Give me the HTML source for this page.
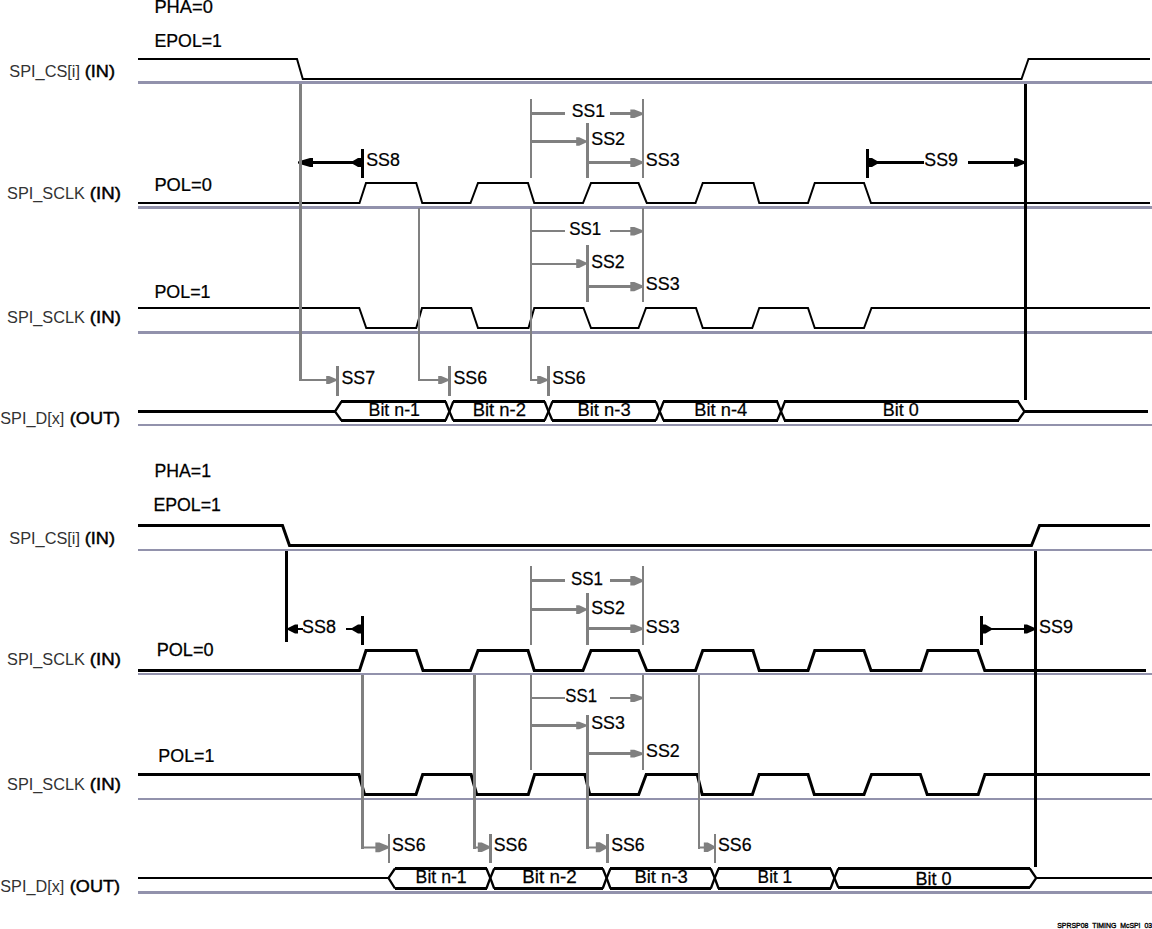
<!DOCTYPE html>
<html><head><meta charset="utf-8"><style>
html,body{margin:0;padding:0;background:#fff;overflow:hidden;}
svg{display:block;}
text{font-family:"Liberation Sans", sans-serif;}
</style></head><body>
<svg width="1152" height="929" viewBox="0 0 1152 929">
<rect width="1152" height="929" fill="#fff"/>
<rect x="138" y="81" width="1014" height="3" fill="#9292ac" shape-rendering="crispEdges"/>
<rect x="138" y="206" width="1014" height="3" fill="#9292ac" shape-rendering="crispEdges"/>
<rect x="138" y="331" width="1014" height="3" fill="#9292ac" shape-rendering="crispEdges"/>
<rect x="138" y="424" width="1014" height="2" fill="#9292ac" shape-rendering="crispEdges"/>
<rect x="138" y="549" width="1014" height="2" fill="#9292ac" shape-rendering="crispEdges"/>
<rect x="138" y="673" width="1014" height="2" fill="#9292ac" shape-rendering="crispEdges"/>
<rect x="138" y="798" width="1014" height="2" fill="#9292ac" shape-rendering="crispEdges"/>
<rect x="138" y="891" width="1014" height="3" fill="#9292ac" shape-rendering="crispEdges"/>
<path d="M138,59 H297 L302.8,79 H1021.5 L1028.5,59 H1150" stroke="#000" stroke-width="2" fill="none" stroke-linejoin="miter" stroke-miterlimit="10"/>
<path d="M138,203 H359.5 L366,183 H416.25 L422.25,203 H470.5 L478,183 H528 L534.25,203 H583 L591,183 H638.5 L646.75,203 H695.5 L702.75,183 H753.5 L759.25,203 H808 L814.75,183 H864 L871,203 H1150" stroke="#000" stroke-width="2" fill="none" stroke-linejoin="miter" stroke-miterlimit="10"/>
<path d="M138,308 H359.25 L366.25,328 H416.25 L422,308 H471.25 L478,328 H528.5 L534.25,308 H583.5 L591,328 H638.5 L646,308 H696 L702.75,328 H752.25 L759.25,308 H808 L814.75,328 H864 L871.5,308 H1150" stroke="#000" stroke-width="2" fill="none" stroke-linejoin="miter" stroke-miterlimit="10"/>
<rect x="341" y="400.0" width="105.0" height="3" fill="#000" shape-rendering="crispEdges"/>
<rect x="341" y="419.0" width="105.0" height="3" fill="#000" shape-rendering="crispEdges"/>
<path d="M341.5,401.5 L335,411.5 L341.5,420.5" stroke="#000" stroke-width="2.3" fill="none" stroke-linejoin="miter" stroke-miterlimit="4"/>
<path d="M445.5,401.5 L449.4,411.5 L445.5,420.5" stroke="#000" stroke-width="2.3" fill="none" stroke-linejoin="miter" stroke-miterlimit="4"/>
<rect x="452.79999999999995" y="400.0" width="92.30000000000007" height="3" fill="#000" shape-rendering="crispEdges"/>
<rect x="452.79999999999995" y="419.0" width="92.30000000000007" height="3" fill="#000" shape-rendering="crispEdges"/>
<path d="M453.29999999999995,401.5 L449.4,411.5 L453.29999999999995,420.5" stroke="#000" stroke-width="2.3" fill="none" stroke-linejoin="miter" stroke-miterlimit="4"/>
<path d="M544.6,401.5 L548.5,411.5 L544.6,420.5" stroke="#000" stroke-width="2.3" fill="none" stroke-linejoin="miter" stroke-miterlimit="4"/>
<rect x="551.9" y="400.0" width="104.45000000000005" height="3" fill="#000" shape-rendering="crispEdges"/>
<rect x="551.9" y="419.0" width="104.45000000000005" height="3" fill="#000" shape-rendering="crispEdges"/>
<path d="M552.4,401.5 L548.5,411.5 L552.4,420.5" stroke="#000" stroke-width="2.3" fill="none" stroke-linejoin="miter" stroke-miterlimit="4"/>
<path d="M655.85,401.5 L659.75,411.5 L655.85,420.5" stroke="#000" stroke-width="2.3" fill="none" stroke-linejoin="miter" stroke-miterlimit="4"/>
<rect x="663.15" y="400.0" width="114.45000000000005" height="3" fill="#000" shape-rendering="crispEdges"/>
<rect x="663.15" y="419.0" width="114.45000000000005" height="3" fill="#000" shape-rendering="crispEdges"/>
<path d="M663.65,401.5 L659.75,411.5 L663.65,420.5" stroke="#000" stroke-width="2.3" fill="none" stroke-linejoin="miter" stroke-miterlimit="4"/>
<path d="M777.1,401.5 L781,411.5 L777.1,420.5" stroke="#000" stroke-width="2.3" fill="none" stroke-linejoin="miter" stroke-miterlimit="4"/>
<rect x="784.4" y="400.0" width="234.10000000000002" height="3" fill="#000" shape-rendering="crispEdges"/>
<rect x="784.4" y="419.0" width="234.10000000000002" height="3" fill="#000" shape-rendering="crispEdges"/>
<path d="M784.9,401.5 L781,411.5 L784.9,420.5" stroke="#000" stroke-width="2.3" fill="none" stroke-linejoin="miter" stroke-miterlimit="4"/>
<path d="M1018.0,401.5 L1024.5,411.5 L1018.0,420.5" stroke="#000" stroke-width="2.3" fill="none" stroke-linejoin="miter" stroke-miterlimit="4"/>
<rect x="138" y="410.0" width="197" height="3" fill="#000" shape-rendering="crispEdges"/>
<rect x="1024.5" y="410.0" width="123.5" height="3" fill="#000" shape-rendering="crispEdges"/>
<path d="M138,525.5 H282.5 L289.5,545.5 H1031.5 L1039.5,525.5 H1150" stroke="#000" stroke-width="3" fill="none" stroke-linejoin="miter" stroke-miterlimit="10"/>
<path d="M138,670.5 H359.5 L366,650.5 H416.25 L423,670.5 H470.5 L478,650.5 H528 L534.25,670.5 H583 L591,650.5 H638.5 L646.75,670.5 H695.5 L702.75,650.5 H753 L759.25,670.5 H808 L814.75,650.5 H864 L871,670.5 H921 L927.75,650.5 H977.75 L984.75,670.5 H1146" stroke="#000" stroke-width="3" fill="none" stroke-linejoin="miter" stroke-miterlimit="10"/>
<path d="M138,774.5 H359 L364.5,794.5 H416 L422.7,774.5 H471.1 L476.7,794.5 H528.3 L534.6,774.5 H584.8 L589.8,794.5 H638.7 L646.2,774.5 H697.2 L702.2,794.5 H752.4 L759.1,774.5 H808 L814.3,794.5 H864 L871.5,774.5 H920.4 L927.2,794.5 H978.2 L984.9,774.5 H1150" stroke="#000" stroke-width="3" fill="none" stroke-linejoin="miter" stroke-miterlimit="10"/>
<rect x="394.5" y="867.0" width="92.40000000000003" height="3" fill="#000" shape-rendering="crispEdges"/>
<rect x="394.5" y="887.0" width="92.40000000000003" height="3" fill="#000" shape-rendering="crispEdges"/>
<path d="M395.0,868.5 L388.5,878 L395.0,888.5" stroke="#000" stroke-width="2.3" fill="none" stroke-linejoin="miter" stroke-miterlimit="4"/>
<path d="M486.40000000000003,868.5 L490.3,878 L486.40000000000003,888.5" stroke="#000" stroke-width="2.3" fill="none" stroke-linejoin="miter" stroke-miterlimit="4"/>
<rect x="493.7" y="867.0" width="109.50000000000006" height="3" fill="#000" shape-rendering="crispEdges"/>
<rect x="493.7" y="887.0" width="109.50000000000006" height="3" fill="#000" shape-rendering="crispEdges"/>
<path d="M494.2,868.5 L490.3,878 L494.2,888.5" stroke="#000" stroke-width="2.3" fill="none" stroke-linejoin="miter" stroke-miterlimit="4"/>
<path d="M602.7,868.5 L606.6,878 L602.7,888.5" stroke="#000" stroke-width="2.3" fill="none" stroke-linejoin="miter" stroke-miterlimit="4"/>
<rect x="610.0" y="867.0" width="101.30000000000007" height="3" fill="#000" shape-rendering="crispEdges"/>
<rect x="610.0" y="887.0" width="101.30000000000007" height="3" fill="#000" shape-rendering="crispEdges"/>
<path d="M610.5,868.5 L606.6,878 L610.5,888.5" stroke="#000" stroke-width="2.3" fill="none" stroke-linejoin="miter" stroke-miterlimit="4"/>
<path d="M710.8000000000001,868.5 L714.7,878 L710.8000000000001,888.5" stroke="#000" stroke-width="2.3" fill="none" stroke-linejoin="miter" stroke-miterlimit="4"/>
<rect x="718.1" y="867.0" width="112.89999999999998" height="3" fill="#000" shape-rendering="crispEdges"/>
<rect x="718.1" y="887.0" width="112.89999999999998" height="3" fill="#000" shape-rendering="crispEdges"/>
<path d="M718.6,868.5 L714.7,878 L718.6,888.5" stroke="#000" stroke-width="2.3" fill="none" stroke-linejoin="miter" stroke-miterlimit="4"/>
<path d="M830.5,868.5 L834.4,878 L830.5,888.5" stroke="#000" stroke-width="2.3" fill="none" stroke-linejoin="miter" stroke-miterlimit="4"/>
<rect x="837.8" y="867.0" width="192.4000000000001" height="3" fill="#000" shape-rendering="crispEdges"/>
<rect x="837.8" y="886.0" width="192.4000000000001" height="3" fill="#000" shape-rendering="crispEdges"/>
<path d="M838.3,868.5 L834.4,878 L838.3,887.5" stroke="#000" stroke-width="2.3" fill="none" stroke-linejoin="miter" stroke-miterlimit="4"/>
<path d="M1029.7,868.5 L1036.2,878 L1029.7,887.5" stroke="#000" stroke-width="2.3" fill="none" stroke-linejoin="miter" stroke-miterlimit="4"/>
<rect x="138" y="877.0" width="250.5" height="2" fill="#000" shape-rendering="crispEdges"/>
<rect x="1036.2" y="877.0" width="115.79999999999995" height="2" fill="#000" shape-rendering="crispEdges"/>
<rect x="1024" y="84" width="3" height="316" fill="#000" shape-rendering="crispEdges"/>
<rect x="300" y="161" width="61" height="3" fill="#000" shape-rendering="crispEdges"/>
<path d="M313,158.0 L310,158.0 L298,161.5 L298,163.5 L310,167.0 L313,167.0 Z" fill="#000"/>
<path d="M361,158.0 L358,158.0 L352,161.5 L352,163.5 L358,167.0 L361,167.0 Z" fill="#000"/>
<rect x="361" y="149" width="3" height="29" fill="#000" shape-rendering="crispEdges"/>
<rect x="866" y="149" width="3" height="29" fill="#000" shape-rendering="crispEdges"/>
<rect x="867" y="161" width="57" height="3" fill="#000" shape-rendering="crispEdges"/>
<path d="M869,158.0 L872,158.0 L878,161.5 L878,163.5 L872,167.0 L869,167.0 Z" fill="#000"/>
<rect x="968" y="161" width="57" height="3" fill="#000" shape-rendering="crispEdges"/>
<path d="M1014,158.25 L1017,158.25 L1025,161.5 L1025,163.5 L1017,166.75 L1014,166.75 Z" fill="#000"/>
<rect x="285" y="551" width="3" height="91" fill="#000" shape-rendering="crispEdges"/>
<rect x="1034" y="551" width="3" height="316" fill="#000" shape-rendering="crispEdges"/>
<path d="M298,624.5 L295,624.5 L288,628 L288,630 L295,633.5 L298,633.5 Z" fill="#000"/>
<rect x="288" y="628" width="15" height="2" fill="#000" shape-rendering="crispEdges"/>
<rect x="346" y="628" width="15" height="2" fill="#000" shape-rendering="crispEdges"/>
<path d="M361,624.5 L358,624.5 L352,628 L352,630 L358,633.5 L361,633.5 Z" fill="#000"/>
<rect x="361" y="616" width="3" height="29" fill="#000" shape-rendering="crispEdges"/>
<rect x="980" y="616" width="3" height="29" fill="#000" shape-rendering="crispEdges"/>
<rect x="982" y="628" width="53" height="2" fill="#000" shape-rendering="crispEdges"/>
<path d="M982.5,624.5 L985.5,624.5 L991.5,628 L991.5,630 L985.5,633.5 L982.5,633.5 Z" fill="#000"/>
<path d="M1024,624.5 L1027,624.5 L1035,628 L1035,630 L1027,633.5 L1024,633.5 Z" fill="#000"/>
<rect x="299" y="84" width="3" height="297" fill="#808080" shape-rendering="crispEdges"/>
<rect x="299" y="379" width="30" height="2" fill="#808080" shape-rendering="crispEdges"/>
<path d="M326.2,376.0 L329.2,376.0 L336.2,379 L336.2,381 L329.2,384.0 L326.2,384.0 Z" fill="#808080"/>
<rect x="336" y="366" width="3" height="30" fill="#808080" shape-rendering="crispEdges"/>
<rect x="418" y="208" width="2" height="173" fill="#808080" shape-rendering="crispEdges"/>
<rect x="418" y="379" width="23" height="2" fill="#808080" shape-rendering="crispEdges"/>
<path d="M438.2,376.0 L441.2,376.0 L448.2,379 L448.2,381 L441.2,384.0 L438.2,384.0 Z" fill="#808080"/>
<rect x="448" y="366" width="3" height="30" fill="#808080" shape-rendering="crispEdges"/>
<rect x="530" y="99" width="2" height="79" fill="#808080" shape-rendering="crispEdges"/>
<rect x="530" y="208" width="2" height="173" fill="#808080" shape-rendering="crispEdges"/>
<rect x="530" y="379" width="10" height="2" fill="#808080" shape-rendering="crispEdges"/>
<path d="M537.2,376.0 L540.2,376.0 L547.2,379 L547.2,381 L540.2,384.0 L537.2,384.0 Z" fill="#808080"/>
<rect x="547" y="366" width="3" height="30" fill="#808080" shape-rendering="crispEdges"/>
<rect x="642" y="99" width="2" height="79" fill="#808080" shape-rendering="crispEdges"/>
<rect x="531" y="112" width="34" height="3" fill="#808080" shape-rendering="crispEdges"/>
<rect x="610" y="112" width="24" height="3" fill="#808080" shape-rendering="crispEdges"/>
<path d="M630.3,109.55 L634.3,109.55 L642.8,112.8 L642.8,114.8 L634.3,118.05 L630.3,118.05 Z" fill="#808080"/>
<rect x="586" y="123" width="3" height="55" fill="#808080" shape-rendering="crispEdges"/>
<rect x="531" y="140" width="47" height="3" fill="#808080" shape-rendering="crispEdges"/>
<path d="M576.2,137.15 L579.2,137.15 L586.2,140.5 L586.2,142.5 L579.2,145.85 L576.2,145.85 Z" fill="#808080"/>
<rect x="588" y="161" width="46" height="3" fill="#808080" shape-rendering="crispEdges"/>
<path d="M630.3,158.0 L634.3,158.0 L642.8,161.5 L642.8,163.5 L634.3,167.0 L630.3,167.0 Z" fill="#808080"/>
<rect x="642" y="208" width="2" height="94" fill="#808080" shape-rendering="crispEdges"/>
<rect x="531" y="230" width="34" height="2" fill="#808080" shape-rendering="crispEdges"/>
<rect x="610" y="230" width="24" height="2" fill="#808080" shape-rendering="crispEdges"/>
<path d="M630.3,226.89999999999998 L634.3,226.89999999999998 L642.8,230.2 L642.8,232.2 L634.3,235.5 L630.3,235.5 Z" fill="#808080"/>
<rect x="586" y="245" width="3" height="57" fill="#808080" shape-rendering="crispEdges"/>
<rect x="531" y="263" width="47" height="2" fill="#808080" shape-rendering="crispEdges"/>
<path d="M576.2,259.25 L579.2,259.25 L586.2,262.6 L586.2,264.6 L579.2,267.95000000000005 L576.2,267.95000000000005 Z" fill="#808080"/>
<rect x="588" y="285" width="46" height="3" fill="#808080" shape-rendering="crispEdges"/>
<path d="M630.3,281.95000000000005 L634.3,281.95000000000005 L642.8,285.6 L642.8,287.6 L634.3,291.25 L630.3,291.25 Z" fill="#808080"/>
<rect x="530" y="566" width="2" height="79" fill="#808080" shape-rendering="crispEdges"/>
<rect x="642" y="566" width="2" height="79" fill="#808080" shape-rendering="crispEdges"/>
<rect x="531" y="579" width="34" height="3" fill="#808080" shape-rendering="crispEdges"/>
<rect x="610" y="579" width="24" height="3" fill="#808080" shape-rendering="crispEdges"/>
<path d="M630.3,576.05 L634.3,576.05 L642.8,579.8 L642.8,581.8 L634.3,585.55 L630.3,585.55 Z" fill="#808080"/>
<rect x="586" y="593" width="3" height="52" fill="#808080" shape-rendering="crispEdges"/>
<rect x="531" y="608" width="47" height="3" fill="#808080" shape-rendering="crispEdges"/>
<path d="M576.2,605.2 L579.2,605.2 L586.2,608.6 L586.2,610.6 L579.2,614.0 L576.2,614.0 Z" fill="#808080"/>
<rect x="588" y="627" width="46" height="3" fill="#808080" shape-rendering="crispEdges"/>
<path d="M630.3,624.5 L634.3,624.5 L642.8,627.8 L642.8,629.8 L634.3,633.0999999999999 L630.3,633.0999999999999 Z" fill="#808080"/>
<rect x="530" y="675" width="2" height="95" fill="#808080" shape-rendering="crispEdges"/>
<rect x="642" y="675" width="2" height="95" fill="#808080" shape-rendering="crispEdges"/>
<rect x="531" y="697" width="34" height="2" fill="#808080" shape-rendering="crispEdges"/>
<rect x="610" y="697" width="24" height="2" fill="#808080" shape-rendering="crispEdges"/>
<path d="M630.3,694.1 L634.3,694.1 L642.8,697 L642.8,699 L634.3,701.9 L630.3,701.9 Z" fill="#808080"/>
<rect x="531" y="724" width="47" height="3" fill="#808080" shape-rendering="crispEdges"/>
<path d="M576.2,721.7 L579.2,721.7 L586.2,724.5 L586.2,726.5 L579.2,729.3 L576.2,729.3 Z" fill="#808080"/>
<rect x="588" y="752" width="46" height="3" fill="#808080" shape-rendering="crispEdges"/>
<path d="M630.3,749.8000000000001 L634.3,749.8000000000001 L642.8,752.7 L642.8,754.7 L634.3,757.6 L630.3,757.6 Z" fill="#808080"/>
<rect x="361" y="675" width="3" height="174" fill="#808080" shape-rendering="crispEdges"/>
<rect x="361" y="846.5" width="15.6" height="2" fill="#808080"/>
<path d="M375.40000000000003,842.4499999999999 L379.40000000000003,842.4499999999999 L388.8,846.3 L388.8,848.3 L379.40000000000003,852.15 L375.40000000000003,852.15 Z" fill="#808080"/>
<rect x="388" y="834" width="2" height="29" fill="#808080" shape-rendering="crispEdges"/>
<rect x="473" y="675" width="3" height="174" fill="#808080" shape-rendering="crispEdges"/>
<rect x="473" y="846.5" width="6" height="2" fill="#808080"/>
<path d="M477.8,842.55 L481.8,842.55 L489.8,846.3 L489.8,848.3 L481.8,852.05 L477.8,852.05 Z" fill="#808080"/>
<rect x="489" y="834" width="3" height="29" fill="#808080" shape-rendering="crispEdges"/>
<rect x="586" y="715" width="3" height="134" fill="#808080" shape-rendering="crispEdges"/>
<rect x="586" y="846.5" width="11" height="2" fill="#808080"/>
<path d="M595.8,842.3 L599.8,842.3 L606.8,846.3 L606.8,848.3 L599.8,852.3 L595.8,852.3 Z" fill="#808080"/>
<rect x="606" y="834" width="3" height="29" fill="#808080" shape-rendering="crispEdges"/>
<rect x="698" y="675" width="2" height="174" fill="#808080" shape-rendering="crispEdges"/>
<rect x="698" y="846.5" width="7" height="2" fill="#808080"/>
<path d="M703.8,842.55 L707.8,842.55 L714.8,846.3 L714.8,848.3 L707.8,852.05 L703.8,852.05 Z" fill="#808080"/>
<rect x="714" y="834" width="2" height="29" fill="#808080" shape-rendering="crispEdges"/>
<text transform="translate(154.44,12.85) scale(0.9880,1)" font-size="18.5" font-weight="normal" fill="#000" stroke="#000" stroke-width="0.25">PHA=0</text>
<text transform="translate(154.48,46.9) scale(0.9587,1)" font-size="18.5" font-weight="normal" fill="#000" stroke="#000" stroke-width="0.25">EPOL=1</text>
<text transform="translate(9.25,77) scale(0.9616,1)" font-size="17" font-weight="normal" fill="#333">SPI_CS[i]</text>
<text transform="translate(84.71,77) scale(1.0681,1)" font-size="17" font-weight="normal" fill="#000" stroke="#000" stroke-width="0.45">(IN)</text>
<text transform="translate(7.05,198.6) scale(0.9594,1)" font-size="17" font-weight="normal" fill="#333">SPI_SCLK</text>
<text transform="translate(89.78,198.6) scale(1.0984,1)" font-size="17" font-weight="normal" fill="#000" stroke="#000" stroke-width="0.45">(IN)</text>
<text transform="translate(154.44,191.1) scale(0.9882,1)" font-size="18.5" font-weight="normal" fill="#000" stroke="#000" stroke-width="0.25">POL=0</text>
<text transform="translate(154.47,297.9) scale(0.9646,1)" font-size="18.5" font-weight="normal" fill="#000" stroke="#000" stroke-width="0.25">POL=1</text>
<text transform="translate(7.05,323.3) scale(0.9594,1)" font-size="17" font-weight="normal" fill="#333">SPI_SCLK</text>
<text transform="translate(89.78,323.3) scale(1.0984,1)" font-size="17" font-weight="normal" fill="#000" stroke="#000" stroke-width="0.45">(IN)</text>
<text transform="translate(0.25,423.6) scale(0.9549,1)" font-size="17" font-weight="normal" fill="#333">SPI_D[x]</text>
<text transform="translate(69.81,423.6) scale(1.0644,1)" font-size="17" font-weight="normal" fill="#000" stroke="#000" stroke-width="0.45">(OUT)</text>
<text transform="translate(368.52,416) scale(0.9632,1)" font-size="18.5" font-weight="normal" fill="#000" stroke="#000" stroke-width="0.25">Bit n-1</text>
<text transform="translate(472.67,415.8) scale(0.9984,1)" font-size="18.5" font-weight="normal" fill="#000" stroke="#000" stroke-width="0.25">Bit n-2</text>
<text transform="translate(577.43,415.8) scale(0.9957,1)" font-size="18.5" font-weight="normal" fill="#000" stroke="#000" stroke-width="0.25">Bit n-3</text>
<text transform="translate(694.34,415.8) scale(0.9883,1)" font-size="18.5" font-weight="normal" fill="#000" stroke="#000" stroke-width="0.25">Bit n-4</text>
<text transform="translate(882.76,415.8) scale(0.9722,1)" font-size="18.5" font-weight="normal" fill="#000" stroke="#000" stroke-width="0.25">Bit 0</text>
<text transform="translate(341.39,383.75) scale(0.9633,1)" font-size="18.5" font-weight="normal" fill="#000" stroke="#000" stroke-width="0.25">SS7</text>
<text transform="translate(453.39,384) scale(0.9655,1)" font-size="18.5" font-weight="normal" fill="#000" stroke="#000" stroke-width="0.25">SS6</text>
<text transform="translate(552.29,383.8) scale(0.9536,1)" font-size="18.5" font-weight="normal" fill="#000" stroke="#000" stroke-width="0.25">SS6</text>
<text transform="translate(571.70,116.7) scale(0.9498,1)" font-size="18.5" font-weight="normal" fill="#000" stroke="#000" stroke-width="0.25">SS1</text>
<text transform="translate(591.18,144.6) scale(0.9708,1)" font-size="18.5" font-weight="normal" fill="#000" stroke="#000" stroke-width="0.25">SS2</text>
<text transform="translate(645.78,165.5) scale(0.9685,1)" font-size="18.5" font-weight="normal" fill="#000" stroke="#000" stroke-width="0.25">SS3</text>
<text transform="translate(569.22,234.8) scale(0.9169,1)" font-size="18.5" font-weight="normal" fill="#000" stroke="#000" stroke-width="0.25">SS1</text>
<text transform="translate(591.29,268) scale(0.9558,1)" font-size="18.5" font-weight="normal" fill="#000" stroke="#000" stroke-width="0.25">SS2</text>
<text transform="translate(645.78,290.3) scale(0.9685,1)" font-size="18.5" font-weight="normal" fill="#000" stroke="#000" stroke-width="0.25">SS3</text>
<text transform="translate(366.19,165.8) scale(0.9625,1)" font-size="18.5" font-weight="normal" fill="#000" stroke="#000" stroke-width="0.25">SS8</text>
<text transform="translate(924.29,166) scale(0.9618,1)" font-size="18.5" font-weight="normal" fill="#000" stroke="#000" stroke-width="0.25">SS9</text>
<text transform="translate(154.49,476.8) scale(0.9560,1)" font-size="18.5" font-weight="normal" fill="#000" stroke="#000" stroke-width="0.25">PHA=1</text>
<text transform="translate(153.38,510.8) scale(0.9601,1)" font-size="18.5" font-weight="normal" fill="#000" stroke="#000" stroke-width="0.25">EPOL=1</text>
<text transform="translate(9.25,544) scale(0.9616,1)" font-size="17" font-weight="normal" fill="#333">SPI_CS[i]</text>
<text transform="translate(84.71,544) scale(1.0681,1)" font-size="17" font-weight="normal" fill="#000" stroke="#000" stroke-width="0.45">(IN)</text>
<text transform="translate(156.65,656.1) scale(0.9810,1)" font-size="18.5" font-weight="normal" fill="#000" stroke="#000" stroke-width="0.25">POL=0</text>
<text transform="translate(7.05,665.3) scale(0.9594,1)" font-size="17" font-weight="normal" fill="#333">SPI_SCLK</text>
<text transform="translate(89.78,665.3) scale(1.0984,1)" font-size="17" font-weight="normal" fill="#000" stroke="#000" stroke-width="0.45">(IN)</text>
<text transform="translate(158.37,762.2) scale(0.9646,1)" font-size="18.5" font-weight="normal" fill="#000" stroke="#000" stroke-width="0.25">POL=1</text>
<text transform="translate(7.05,790) scale(0.9594,1)" font-size="17" font-weight="normal" fill="#333">SPI_SCLK</text>
<text transform="translate(89.78,790) scale(1.0984,1)" font-size="17" font-weight="normal" fill="#000" stroke="#000" stroke-width="0.45">(IN)</text>
<text transform="translate(0.25,892) scale(0.9549,1)" font-size="17" font-weight="normal" fill="#333">SPI_D[x]</text>
<text transform="translate(69.81,892) scale(1.0644,1)" font-size="17" font-weight="normal" fill="#000" stroke="#000" stroke-width="0.45">(OUT)</text>
<text transform="translate(415.58,883) scale(0.9563,1)" font-size="18.5" font-weight="normal" fill="#000" stroke="#000" stroke-width="0.25">Bit n-1</text>
<text transform="translate(522.24,883) scale(1.0179,1)" font-size="18.5" font-weight="normal" fill="#000" stroke="#000" stroke-width="0.25">Bit n-2</text>
<text transform="translate(634.42,883) scale(0.9996,1)" font-size="18.5" font-weight="normal" fill="#000" stroke="#000" stroke-width="0.25">Bit n-3</text>
<text transform="translate(757.62,883) scale(0.9341,1)" font-size="18.5" font-weight="normal" fill="#000" stroke="#000" stroke-width="0.25">Bit 1</text>
<text transform="translate(915.56,884.8) scale(0.9751,1)" font-size="18.5" font-weight="normal" fill="#000" stroke="#000" stroke-width="0.25">Bit 0</text>
<text transform="translate(301.98,632.8) scale(0.9714,1)" font-size="18.5" font-weight="normal" fill="#000" stroke="#000" stroke-width="0.25">SS8</text>
<text transform="translate(1038.98,632.9) scale(0.9738,1)" font-size="18.5" font-weight="normal" fill="#000" stroke="#000" stroke-width="0.25">SS9</text>
<text transform="translate(571.02,584.8) scale(0.9139,1)" font-size="18.5" font-weight="normal" fill="#000" stroke="#000" stroke-width="0.25">SS1</text>
<text transform="translate(591.18,614) scale(0.9678,1)" font-size="18.5" font-weight="normal" fill="#000" stroke="#000" stroke-width="0.25">SS2</text>
<text transform="translate(645.78,632.5) scale(0.9685,1)" font-size="18.5" font-weight="normal" fill="#000" stroke="#000" stroke-width="0.25">SS3</text>
<text transform="translate(565.33,701.6) scale(0.9049,1)" font-size="18.5" font-weight="normal" fill="#000" stroke="#000" stroke-width="0.25">SS1</text>
<text transform="translate(591.19,728.8) scale(0.9625,1)" font-size="18.5" font-weight="normal" fill="#000" stroke="#000" stroke-width="0.25">SS3</text>
<text transform="translate(645.99,756.6) scale(0.9648,1)" font-size="18.5" font-weight="normal" fill="#000" stroke="#000" stroke-width="0.25">SS2</text>
<text transform="translate(391.99,850.5) scale(0.9595,1)" font-size="18.5" font-weight="normal" fill="#000" stroke="#000" stroke-width="0.25">SS6</text>
<text transform="translate(493.79,850.5) scale(0.9595,1)" font-size="18.5" font-weight="normal" fill="#000" stroke="#000" stroke-width="0.25">SS6</text>
<text transform="translate(611.19,850.5) scale(0.9595,1)" font-size="18.5" font-weight="normal" fill="#000" stroke="#000" stroke-width="0.25">SS6</text>
<text transform="translate(717.99,850.5) scale(0.9595,1)" font-size="18.5" font-weight="normal" fill="#000" stroke="#000" stroke-width="0.25">SS6</text>
<text transform="translate(1057.22,927.8) scale(0.9230,1)" font-size="7.5" font-weight="normal" fill="#000" stroke="#000" stroke-width="0.35">SPRSP08_TIMING_McSPI_03</text>
</svg></body></html>
